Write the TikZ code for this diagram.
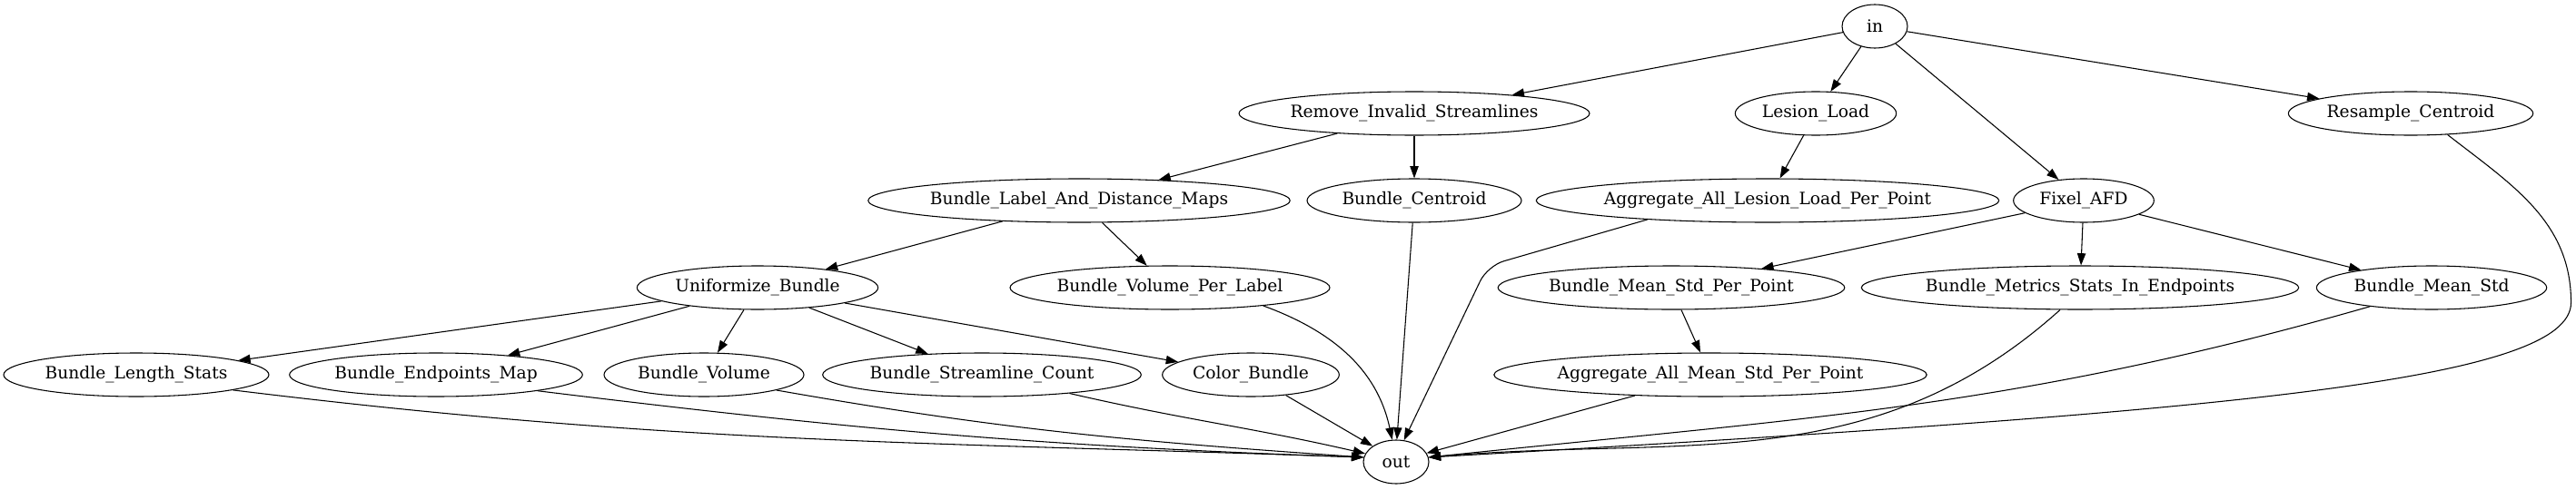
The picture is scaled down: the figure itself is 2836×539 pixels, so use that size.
\documentclass[tikz,border=0pt]{standalone}
\usepackage{fontspec}
\setmainfont{DejaVu Serif}
\usetikzlibrary{shapes.geometric,arrows.meta}

\begin{document}
\begin{tikzpicture}[
  x=0.75pt, y=0.75pt,
  task/.style={
    ellipse, draw, line width=0.8pt, inner sep=0pt,
    minimum height=36pt, font=\fontsize{14}{16}\selectfont
  },
  arr/.style={-{Triangle[length=10pt,width=7pt]}, line width=0.8pt}
]
\useasboundingbox (0,0) rectangle (2836,-539);

% --- Source
\node[task, minimum width=54pt]  (input)       at (2064,-29)  {in};

% --- First level
\node[task, minimum width=288pt] (remove)      at (1557,-125) {Remove\_Invalid\_Streamlines};
\node[task, minimum width=133pt] (lesion)      at (1999,-125) {Lesion\_Load};
\node[task, minimum width=202pt] (resample)    at (2654,-125) {Resample\_Centroid};

% --- Second level
\node[task, minimum width=340pt] (labelmaps)   at (1188,-221) {Bundle\_Label\_And\_Distance\_Maps};
\node[task, minimum width=177pt] (centroid)    at (1557,-221) {Bundle\_Centroid};
\node[task, minimum width=370pt] (agglesion)   at (1946,-221) {Aggregate\_All\_Lesion\_Load\_Per\_Point};
\node[task, minimum width=116pt] (fixel)       at (2294,-221) {Fixel\_AFD};

% --- Third level
\node[task, minimum width=199pt] (uniform)     at (834,-317)  {Uniformize\_Bundle};
\node[task, minimum width=264pt] (volperlabel) at (1288,-317) {Bundle\_Volume\_Per\_Label};
\node[task, minimum width=285pt] (meanstdpp)   at (1840,-317) {Bundle\_Mean\_Std\_Per\_Point};
\node[task, minimum width=354pt] (metrics)     at (2290,-317) {Bundle\_Metrics\_Stats\_In\_Endpoints};
\node[task, minimum width=190pt] (meanstd)     at (2677,-317) {Bundle\_Mean\_Std};

% --- Fourth level
\node[task, minimum width=219pt] (length)      at (150,-413)  {Bundle\_Length\_Stats};
\node[task, minimum width=242pt] (endpoints)   at (480,-413)  {Bundle\_Endpoints\_Map};
\node[task, minimum width=165pt] (volume)      at (775,-413)  {Bundle\_Volume};
\node[task, minimum width=263pt] (count)       at (1081,-413) {Bundle\_Streamline\_Count};
\node[task, minimum width=146pt] (color)       at (1377,-413) {Color\_Bundle};
\node[task, minimum width=350pt] (aggmeanstd)  at (1883,-413) {Aggregate\_All\_Mean\_Std\_Per\_Point};

% --- Sink
\node[task, minimum width=54pt]  (output)      at (1537,-509) {out};

% --- Arrows: in -> first level
\draw[arr] (input) -- (remove);
\draw[arr] (input) -- (lesion);
\draw[arr] (input) -- (fixel);
\draw[arr] (input) -- (resample);

% --- Arrows: tree edges
\draw[arr] (remove) -- (labelmaps);
\draw[arr] (remove) -- (centroid);
\draw[arr] (lesion) -- (agglesion);
\draw[arr] (labelmaps) -- (uniform);
\draw[arr] (labelmaps) -- (volperlabel);
\draw[arr] (fixel) -- (meanstdpp);
\draw[arr] (fixel) -- (metrics);
\draw[arr] (fixel) -- (meanstd);
\draw[arr] (meanstdpp) -- (aggmeanstd);
\draw[arr] (uniform) -- (length);
\draw[arr] (uniform) -- (endpoints);
\draw[arr] (uniform) -- (volume);
\draw[arr] (uniform) -- (count);
\draw[arr] (uniform) -- (color);

% --- Arrows: everything -> out
\draw[arr] (length.-9)     to[out=-7, in=178]  (output.172);
\draw[arr] (endpoints.-9)  to[out=-7, in=178]  (output.172);
\draw[arr] (volume.-12)    to[out=-10, in=176] (output.172);
\draw[arr] (count.-12)     to[out=-13, in=167] (output.165);
\draw[arr] (color) -- (output.146);
\draw[arr] (volperlabel.-11) to[out=-20, in=102] (output.100);
\draw[arr] (centroid) -- (output.88);
\draw[arr, rounded corners=14pt] (agglesion.189) -- ++(-176,-51) -- (output.70);
\draw[arr] (aggmeanstd) -- (output.16);
\draw[arr] (metrics.228)   to[out=222, in=5]   (output.8);
\draw[arr] (meanstd.197)   to[out=196, in=6]   (output.8);
\draw[arr] (resample.-30)  to[out=-38, in=90] ++(136,-185)
  .. controls +(0,-87) and +(877,50) .. (output.8);

\end{tikzpicture}
\end{document}
